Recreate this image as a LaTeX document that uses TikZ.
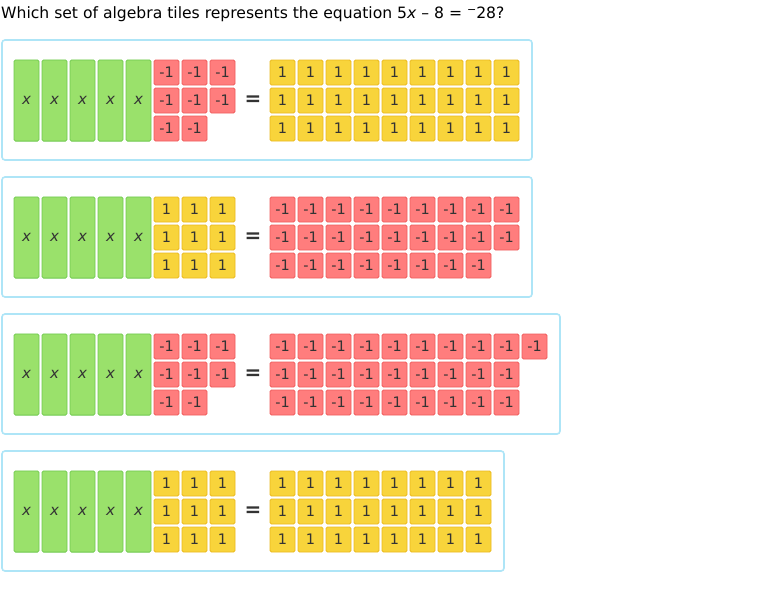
\documentclass[tikz,border=0pt]{standalone}
\usepackage{fontspec}
\setmainfont{DejaVu Sans}
\definecolor{xgreen}{HTML}{9AE16B}
\definecolor{xgreenb}{HTML}{6FC94E}
\definecolor{ured}{HTML}{FF7D7D}
\definecolor{uredb}{HTML}{F05C5C}
\definecolor{uyel}{HTML}{F8D43B}
\definecolor{uyelb}{HTML}{EBBA1E}
\definecolor{pblue}{HTML}{AEE5F7}
\definecolor{tiletext}{HTML}{333333}
\tikzset{
  tile/.style={draw, rounded corners=1.5pt, line width=0.8pt, minimum width=25pt,
    minimum height=25pt, inner sep=0pt, text=tiletext, font=\fontsize{14.5}{14.5}\selectfont},
  xtile/.style={tile, fill=xgreen, draw=xgreenb, minimum height=81.2pt,
    font=\fontsize{15}{15}\selectfont\itshape},
  postile/.style={tile, fill=uyel, draw=uyelb},
  negtile/.style={tile, fill=ured, draw=uredb},
  panelbox/.style={draw=pblue, line width=1.6pt, rounded corners=3pt},
  eqsign/.style={text=tiletext, font=\fontsize{20}{20}\selectfont\bfseries, inner sep=0pt},
  title/.style={anchor=base west, inner sep=0pt, text=black, font=\fontsize{15.6}{15.6}\selectfont}
}
% #1 name, #2 top, #3 right edge, #4 left style, #5 left label, #6 left rows,
% #7 right style, #8 right label, #9 right rows
\newcommand\tilepanel[9]{%
  \draw[panelbox] (2,#2) rectangle (#3,#2+120);
  \foreach \i in {0,...,4}{
    \node[xtile] (#1-x\i) at (26.5+28*\i,#2+60.5) {x};
  }
  \foreach \n [count=\r from 0] in {#6}{
    \foreach \c in {1,...,\n}{
      \node[#4] (#1-l\r-\c) at (138.5+28*\c,#2+32.5+28*\r) {#5};
    }
  }
  \node[eqsign] (#1-eq) at (253,#2+60.5) {=};
  \foreach \n [count=\r from 0] in {#9}{
    \foreach \c in {1,...,\n}{
      \node[#7] (#1-r\r-\c) at (254.5+28*\c,#2+32.5+28*\r) {#8};
    }
  }
}
\begin{document}
\begin{tikzpicture}[x=1pt,y=-1pt]
\useasboundingbox[fill=white] (0,0) rectangle (760,589);
\node[title] (q) at (1,18) {Which set of algebra tiles represents the equation 5\textit{x} – 8 = \raisebox{0.3em}{\fontsize{11}{11}\selectfont −}28?};
\tilepanel{a}{40}{532}{negtile}{-1}{3,3,2}{postile}{1}{9,9,9}
\tilepanel{b}{177}{532}{postile}{1}{3,3,3}{negtile}{-1}{9,9,8}
\tilepanel{c}{314}{560}{negtile}{-1}{3,3,2}{negtile}{-1}{10,9,9}
\tilepanel{d}{451}{504}{postile}{1}{3,3,3}{postile}{1}{8,8,8}
\end{tikzpicture}
\end{document}
